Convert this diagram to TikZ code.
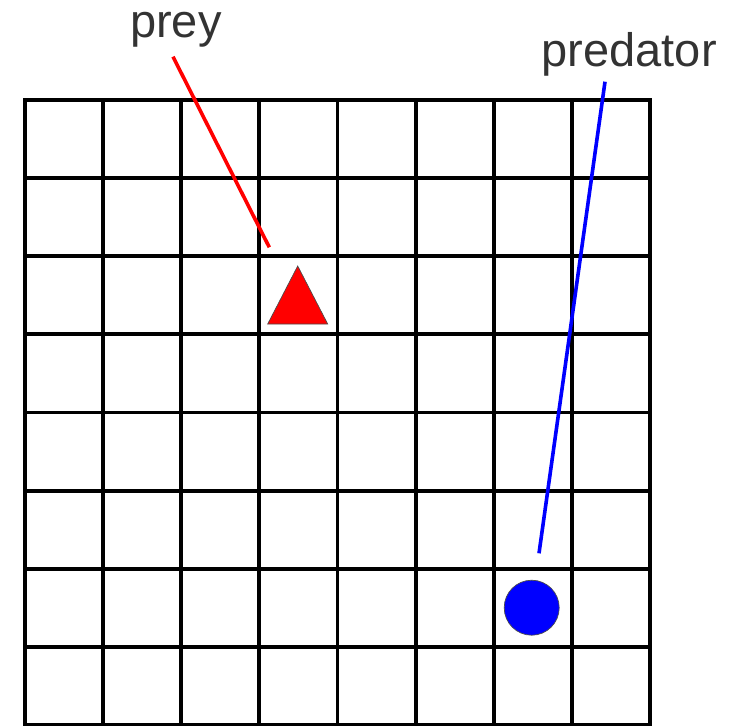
\documentclass[tikz,border=0pt]{standalone}
\usepackage{fontspec}
\setmainfont{Liberation Sans}
\begin{document}
\begin{tikzpicture}[x=1pt,y=-1pt,
  gridline/.style={line width=3.8pt,black,line cap=rect},
  labeltext/.style={font=\fontsize{47}{50}\selectfont,text=black!80,inner sep=0pt,anchor=base},
  pointer/.style={line width=3.6pt},
  preyshape/.style={fill=red,draw=black!70,line width=0.7pt,line join=miter},
  predshape/.style={circle,fill=blue,draw=black!70,line width=0.7pt,minimum size=55pt,inner sep=0pt}]
\useasboundingbox (0,0) rectangle (730,725);
% grid
\foreach \i in {0,...,8} {
  \draw[gridline] ({24.7+78.2*\i},99.7) -- ({24.7+78.2*\i},725.3);
  \draw[gridline] (24.7,{99.7+78.2*\i}) -- (650.3,{99.7+78.2*\i});
}
% prey
\draw[preyshape] (297.7,266) -- (327.7,324) -- (267.7,324) -- cycle;
\node[labeltext] (preylabel) at (175.8,37.7) {prey};
\coordinate (preyfrom) at (173,56.7);
\coordinate (preyto) at (269.3,247.3);
\draw[pointer,red] (preyfrom) -- (preyto);
% predator
\node[predshape] (predator) at (531.7,607.7) {};
\node[labeltext] (predlabel) at (629.2,66.7) {predator};
\coordinate (predfrom) at (605,81.7);
\coordinate (predto) at (539,553.3);
\draw[pointer,blue] (predfrom) -- (predto);
\end{tikzpicture}
\end{document}
